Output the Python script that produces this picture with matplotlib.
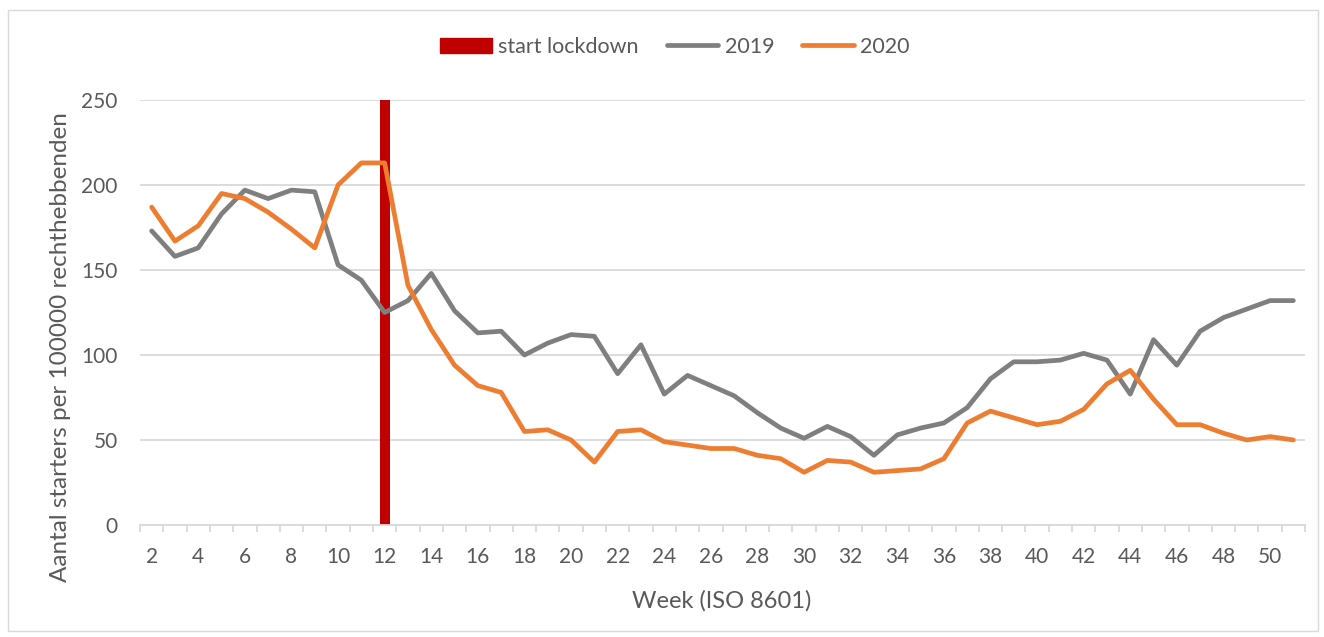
import matplotlib.pyplot as plt
from matplotlib.patches import Patch, Rectangle
from matplotlib.lines import Line2D

weeks = list(range(2, 52))
starters_2019 = [173, 158, 163, 183, 197, 192, 197, 196, 153, 144,
                 125, 132, 148, 126, 113, 114, 100, 107, 112, 111,
                 89, 106, 77, 88, 82, 76, 66, 57, 51, 58,
                 52, 41, 53, 57, 60, 69, 86, 96, 96, 97,
                 101, 97, 77, 109, 94, 114, 122, 127, 132, 132]
starters_2020 = [187, 167, 176, 195, 192, 184, 174, 163, 200, 213,
                 213, 141, 115, 94, 82, 78, 55, 56, 50, 37,
                 55, 56, 49, 47, 45, 45, 41, 39, 31, 38,
                 37, 31, 32, 33, 39, 60, 67, 63, 59, 61,
                 68, 83, 91, 74, 59, 59, 54, 50, 52, 50]
lockdown_week = 12
lockdown_value = 250

plt.rcParams['font.family'] = ['Lato', 'DejaVu Sans']
grey_txt = '#595959'
grid_col = '#D9D9D9'

fig = plt.figure(figsize=(13.24, 6.37), dpi=100)
ax = fig.add_axes([140 / 1324, 1 - 525 / 637, 1165 / 1324, 425 / 637])

pos = [w - weeks[0] for w in weeks]
ax.bar(weeks.index(lockdown_week), lockdown_value, width=0.43, color='#C00000', zorder=2)
ax.plot(pos, starters_2019, color='#7F7F7F', lw=3.4, solid_joinstyle='round', solid_capstyle='round', zorder=3)
ax.plot(pos, starters_2020, color='#ED7D31', lw=3.4, solid_joinstyle='round', solid_capstyle='round', zorder=4)

ax.set_xlim(-0.5, len(weeks) - 0.5)
ax.set_ylim(0, 250)
ax.set_yticks(range(0, 251, 50))
ax.yaxis.grid(True, color=grid_col, lw=1.3)
ax.set_axisbelow(True)
ax.tick_params(axis='y', length=0, labelsize=15, labelcolor=grey_txt, pad=16)

ax.set_xticks(pos[::2])
ax.set_xticklabels([str(w) for w in weeks[::2]])
ax.set_xticks([p + 0.5 for p in range(-1, len(weeks))], minor=True)
ax.tick_params(axis='x', which='major', length=0, labelsize=15, labelcolor=grey_txt, pad=16)
ax.tick_params(axis='x', which='minor', length=5, color=grid_col, width=1.3)

for s in ['top', 'right', 'left']:
    ax.spines[s].set_visible(False)
ax.spines['bottom'].set_color(grid_col)
ax.spines['bottom'].set_linewidth(1.3)

ax.set_xlabel('Week (ISO 8601)', fontsize=17, color=grey_txt)
ax.xaxis.set_label_coords((722 - 140) / 1165, -(612 - 525) / 425)
ax.xaxis.label.set_va('bottom')
ax.set_ylabel('Aantal starters per 100000 rechthebbenden', fontsize=17.5, color=grey_txt)
ax.yaxis.set_label_coords(-(140 - 71) / 1165, (525 - 347) / 425)

handles = [Patch(color='#C00000'),
           Line2D([], [], color='#7F7F7F', lw=3.4, solid_capstyle='round'),
           Line2D([], [], color='#ED7D31', lw=3.4, solid_capstyle='round')]
fig.legend(handles, ['start lockdown', '2019', '2020'], loc='center', bbox_to_anchor=(675 / 1324, 1 - 47 / 637),
           ncol=3, frameon=False, fontsize=15.5, labelcolor=grey_txt, handlelength=2.4, handletextpad=0.3,
           columnspacing=1.3)

fig.patches.append(Rectangle((8 / 1324, 6 / 637), 1310 / 1324, 621 / 637, transform=fig.transFigure,
                             fill=False, edgecolor=grid_col, lw=1))

fig.savefig('out.png', dpi=100)
